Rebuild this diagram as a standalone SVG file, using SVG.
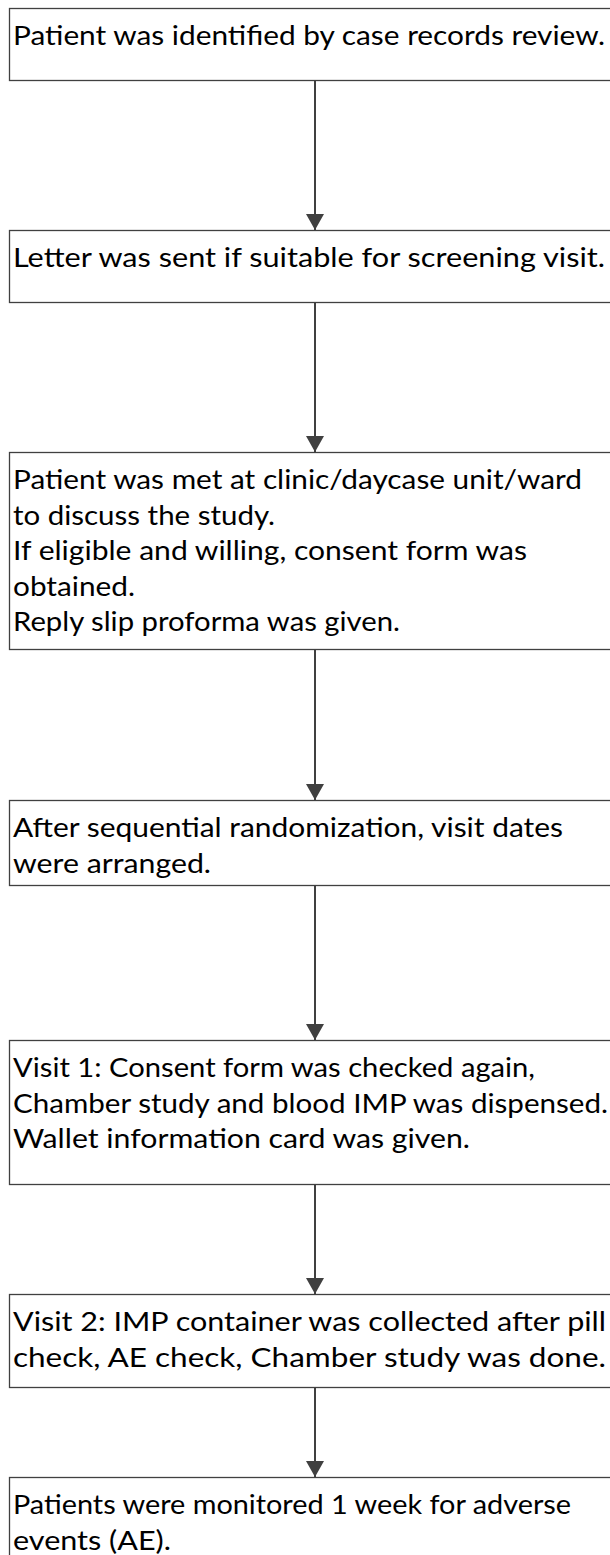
<svg xmlns="http://www.w3.org/2000/svg" width="610" height="1555" viewBox="0 0 610 1555">
  <defs>
    <marker id="arrow" viewBox="0 0 16 18" refX="16" refY="9" markerWidth="16" markerHeight="18" markerUnits="userSpaceOnUse" orient="auto">
      <path d="M0,0 L16,9 L0,18 Z" fill="#404040"/>
    </marker>
    <style>
      .box { fill: #ffffff; stroke: #404040; stroke-width: 1.3; }
      .label { font-family: Lato, "Open Sans", "Liberation Sans", sans-serif; font-size: 27.5px; fill: #000000; }
      .link { stroke: #404040; stroke-width: 2; fill: none; marker-end: url(#arrow); }
    </style>
  </defs>
  <rect width="610" height="1555" fill="#ffffff"/>

  <!-- connectors -->
  <g id="connectors">
    <line class="link" x1="315" y1="80" x2="315" y2="230"/>
    <line class="link" x1="315" y1="302" x2="315" y2="452"/>
    <line class="link" x1="315" y1="649" x2="315" y2="800"/>
    <line class="link" x1="315" y1="885" x2="315" y2="1040"/>
    <line class="link" x1="315" y1="1184" x2="315" y2="1294"/>
    <line class="link" x1="315" y1="1387" x2="315" y2="1477"/>
  </g>

  <g id="step1">
    <rect class="box" x="9.5" y="8.5" width="610" height="72"/>
    <text class="label" x="13" y="45" textLength="592" lengthAdjust="spacingAndGlyphs">Patient was identified by case records review.</text>
  </g>

  <g id="step2">
    <rect class="box" x="9.5" y="230.5" width="610" height="72"/>
    <text class="label" x="13" y="267" textLength="592" lengthAdjust="spacingAndGlyphs">Letter was sent if suitable for screening visit.</text>
  </g>

  <g id="step3">
    <rect class="box" x="9.5" y="452.5" width="610" height="197"/>
    <text class="label" x="13" y="489" textLength="569" lengthAdjust="spacingAndGlyphs">Patient was met at clinic/daycase unit/ward</text>
    <text class="label" x="13" y="524.5" textLength="262" lengthAdjust="spacingAndGlyphs">to discuss the study.</text>
    <text class="label" x="13" y="560" textLength="514" lengthAdjust="spacingAndGlyphs">If eligible and willing, consent form was</text>
    <text class="label" x="13" y="595.5" textLength="122" lengthAdjust="spacingAndGlyphs">obtained.</text>
    <text class="label" x="13" y="631" textLength="387" lengthAdjust="spacingAndGlyphs">Reply slip proforma was given.</text>
  </g>

  <g id="step4">
    <rect class="box" x="9.5" y="800.5" width="610" height="85"/>
    <text class="label" x="13" y="837" textLength="550" lengthAdjust="spacingAndGlyphs">After sequential randomization, visit dates</text>
    <text class="label" x="13" y="872.5" textLength="198" lengthAdjust="spacingAndGlyphs">were arranged.</text>
  </g>

  <g id="step5">
    <rect class="box" x="9.5" y="1040.5" width="610" height="144"/>
    <text class="label" x="13" y="1077" textLength="522" lengthAdjust="spacingAndGlyphs">Visit 1: Consent form was checked again,</text>
    <text class="label" x="13" y="1112.5" textLength="595" lengthAdjust="spacingAndGlyphs">Chamber study and blood IMP was dispensed.</text>
    <text class="label" x="13" y="1148" textLength="457" lengthAdjust="spacingAndGlyphs">Wallet information card was given.</text>
  </g>

  <g id="step6">
    <rect class="box" x="9.5" y="1294.5" width="610" height="93"/>
    <text class="label" x="13" y="1331" textLength="593" lengthAdjust="spacingAndGlyphs">Visit 2: IMP container was collected after pill</text>
    <text class="label" x="13" y="1366.5" textLength="593" lengthAdjust="spacingAndGlyphs">check, AE check, Chamber study was done.</text>
  </g>

  <g id="step7">
    <rect class="box" x="9.5" y="1477.5" width="610" height="100"/>
    <text class="label" x="13" y="1514" textLength="558" lengthAdjust="spacingAndGlyphs">Patients were monitored 1 week for adverse</text>
    <text class="label" x="13" y="1549.5" textLength="158" lengthAdjust="spacingAndGlyphs">events (AE).</text>
  </g>
</svg>
